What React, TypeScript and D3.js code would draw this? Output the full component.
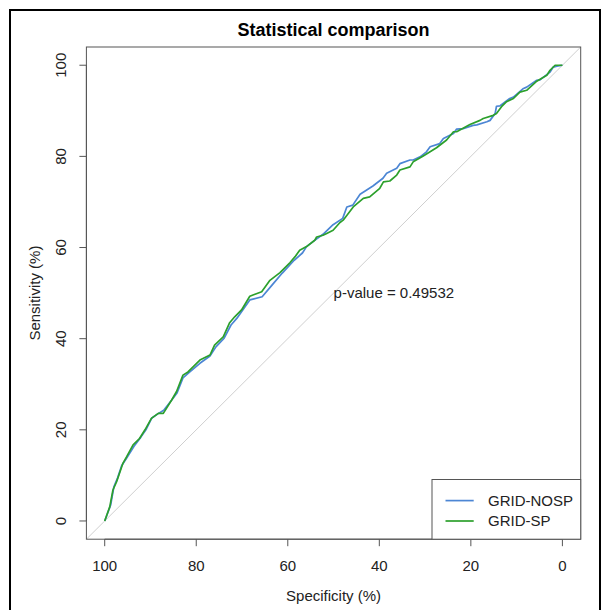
import React from "react";
import * as d3 from "d3";

const xTicks = [100, 80, 60, 40, 20, 0];
const yTicks = [0, 20, 40, 60, 80, 100];

// [specificity %, sensitivity %]
const nospCurve: [number, number][] = [
  [100, 0], [98.7, 3.5], [98.0, 7.5], [97.2, 9.4], [96.3, 12.1], [95.2, 13.8], [93.6, 16.4],
  [92.1, 18.4], [91.0, 20.0], [89.7, 22.6], [88.4, 23.5], [87.1, 24.3], [85.4, 26.5], [84.2, 28.1],
  [82.9, 31.4], [81.4, 32.7], [79.2, 34.6], [77.0, 36.2], [75.7, 38.2], [73.9, 40.1], [72.4, 43.0],
  [71.1, 44.5], [68.3, 48.5], [65.6, 49.2], [63.4, 51.8], [61.2, 54.4], [58.6, 57.2], [56.8, 58.8],
  [55.9, 60.2], [54.5, 61.3], [52.3, 62.9], [50.1, 65.0], [48.0, 66.4], [47.1, 68.9], [45.8, 69.3],
  [44.2, 71.7], [41.4, 73.5], [39.2, 75.2], [38.4, 76.3], [36.2, 77.4], [35.5, 78.4], [33.3, 79.2],
  [32.6, 79.2], [31.1, 79.9], [29.7, 81.0], [28.9, 82.1], [26.8, 82.8], [26.0, 83.9], [23.8, 85.0],
  [23.1, 86.0], [21.7, 86.1], [19.5, 86.8], [18.7, 86.9], [16.5, 87.6], [15.8, 87.9], [14.7, 89.4],
  [14.4, 91.0], [13.6, 91.1], [11.5, 92.7], [10.7, 93.0], [8.5, 94.9], [7.8, 95.2], [5.6, 96.7],
  [4.9, 96.8], [2.7, 98.5], [2.0, 99.6], [1.2, 99.8], [0, 100],
];

const spCurve: [number, number][] = [
  [100, 0], [98.9, 3.1], [98.2, 6.8], [97.4, 8.6], [96.0, 12.7], [95.2, 14.1], [93.8, 16.7],
  [92.4, 18.1], [91.2, 20.0], [89.8, 22.5], [88.3, 23.6], [87.2, 23.6], [85.4, 26.5], [84.3, 28.4],
  [82.9, 32.0], [81.8, 32.7], [79.2, 35.3], [77.0, 36.4], [76.0, 38.6], [74.1, 40.4], [72.7, 43.5],
  [71.6, 44.8], [70.1, 46.3], [68.3, 49.3], [67.6, 49.6], [65.7, 50.3], [63.9, 52.8], [61.7, 54.5],
  [59.5, 56.7], [58.4, 58.0], [57.4, 59.4], [55.9, 60.2], [54.1, 61.6], [53.7, 62.3], [52.3, 62.7],
  [51.5, 63.1], [50.1, 63.8], [48.6, 65.5], [47.9, 66.0], [45.7, 68.9], [43.5, 70.8], [42.1, 71.1],
  [39.9, 73.0], [39.1, 74.4], [37.7, 74.6], [36.2, 75.9], [35.5, 77.0], [33.3, 77.7], [32.6, 78.8],
  [30.4, 80.1], [27.5, 81.9], [25.3, 83.6], [23.8, 85.4], [23.1, 85.4], [20.2, 87.0], [18.0, 87.9],
  [17.3, 88.3], [15.1, 89.0], [14.4, 89.4], [13.3, 90.9], [12.2, 92.0], [10.7, 92.7], [9.3, 94.1],
  [7.8, 94.5], [5.6, 96.5], [3.4, 97.8], [2.7, 98.9], [1.6, 100], [0, 100],
];

const seriesNames = ["GRID-NOSP", "GRID-SP"];
const seriesColors = ["#4C86D4", "#2CA02C"];
const pValueLabel = "p-value = 0.49532";

export default function App() {
  const W = 606;
  const H = 610;
  const left = 86.4, right = 580.7, top = 47, bottom = 539.2;
  const x = d3.scaleLinear().domain([104, -4]).range([left, right]);
  const y = d3.scaleLinear().domain([-4, 104]).range([bottom, top]);
  const line = d3.line<[number, number]>().x((d) => x(d[0])).y((d) => y(d[1]));
  const font = "'Liberation Sans', Arial, Helvetica, sans-serif";
  const cx = (left + right) / 2;
  const cy = (top + bottom) / 2;
  const curves = [nospCurve, spCurve];

  const legLeft = 432, legTop = 479.5;
  const rowY = [500.6, 521];

  return (
    <svg
      width={W}
      height={H}
      style={{ position: "absolute", left: 0, top: 0, background: "#fff" }}
      fontFamily={font}
    >
      <rect x={0} y={0} width={W} height={H} fill="#fff" />
      <rect x={10} y={10} width={590} height={620} fill="none" stroke="#000" strokeWidth={2} />
      <defs>
        <clipPath id="plotClip">
          <rect x={left} y={top} width={right - left} height={bottom - top} />
        </clipPath>
      </defs>
      <text x={cx} y={36} textAnchor="middle" fontSize={18} fontWeight="bold" fill="#000">
        Statistical comparison
      </text>
      <line
        x1={x(104)} y1={y(-4)} x2={x(-4)} y2={y(104)}
        stroke="#cfcfcf" strokeWidth={1} clipPath="url(#plotClip)"
      />
      {curves.map((c, i) => (
        <path key={i} d={line(c) || ""} fill="none" stroke={seriesColors[i]} strokeWidth={1.7}
          strokeLinejoin="round" clipPath="url(#plotClip)" />
      ))}
      <rect x={left} y={top} width={right - left} height={bottom - top} fill="none" stroke="#555" strokeWidth={1} />
      <line x1={x(100)} x2={x(0)} y1={bottom} y2={bottom} stroke="#555" />
      {xTicks.map((t) => (
        <g key={"x" + t}>
          <line x1={x(t)} x2={x(t)} y1={bottom} y2={bottom + 7} stroke="#555" />
          <text x={x(t)} y={570.5} textAnchor="middle" fontSize={15} fill="#222">{t}</text>
        </g>
      ))}
      <text x={cx} y={600.5} textAnchor="middle" fontSize={15} fill="#222">Specificity (%)</text>
      <line x1={left} x2={left} y1={y(0)} y2={y(100)} stroke="#555" />
      {yTicks.map((t) => (
        <g key={"y" + t}>
          <line x1={left - 7} x2={left} y1={y(t)} y2={y(t)} stroke="#555" />
          <text transform={`translate(66,${y(t)}) rotate(-90)`} textAnchor="middle" fontSize={15} fill="#222">{t}</text>
        </g>
      ))}
      <text transform={`translate(40,${cy}) rotate(-90)`} textAnchor="middle" fontSize={15} fill="#222">
        Sensitivity (%)
      </text>
      <text x={x(50)} y={y(50) + 5} fontSize={15} fill="#222">{pValueLabel}</text>
      <rect x={legLeft} y={legTop} width={right - legLeft} height={bottom - legTop} fill="#fff" stroke="#555" strokeWidth={1} />
      {seriesNames.map((n, i) => (
        <g key={n}>
          <line x1={445.5} x2={473.7} y1={rowY[i]} y2={rowY[i]} stroke={seriesColors[i]} strokeWidth={1.7} />
          <text x={488} y={rowY[i] + 5.3} fontSize={15} fill="#222">{n}</text>
        </g>
      ))}
    </svg>
  );
}
